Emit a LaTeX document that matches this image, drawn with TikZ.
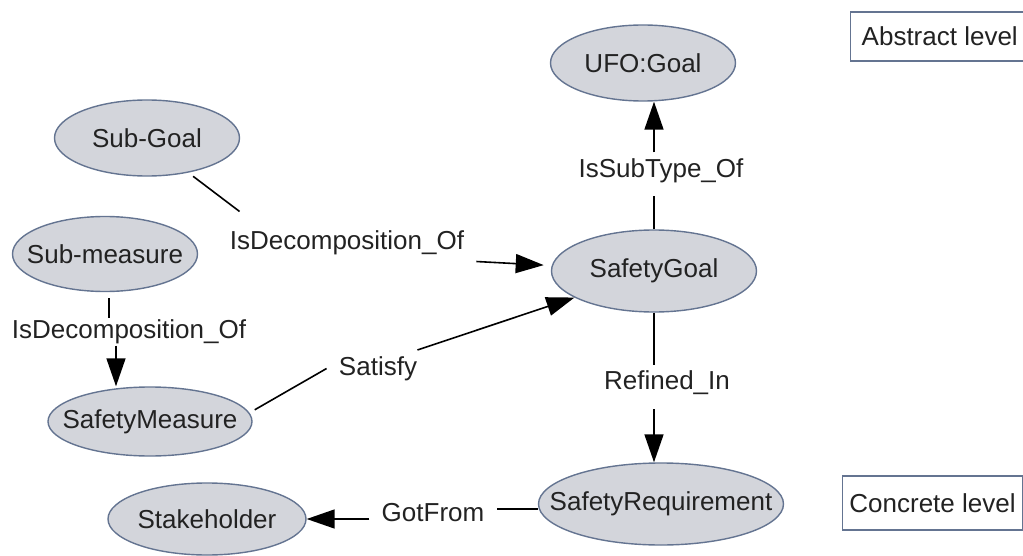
\documentclass[tikz,border=0pt]{standalone}
\usepackage{fontspec}
\setmainfont{Liberation Sans}
\usepackage{tikz}
\usepackage{xcolor}
\usetikzlibrary{shapes.geometric,arrows.meta}
\definecolor{nodefill}{RGB}{211,213,219}
\definecolor{nodeline}{RGB}{100,116,145}
\definecolor{textgray}{RGB}{34,34,34}
\newcommand{\conceptname}[1]{\makebox[0pt]{#1}}
\tikzset{
    concept-node/.style = {draw=nodeline, fill=nodefill, ellipse, line width=0.7pt, inner sep=0pt, text=textgray},
    rel-label/.style = {text=textgray, inner xsep=6pt, inner ysep=3pt},
    rel-line/.style = {draw=black, line width=0.8pt},
    rel-arrow/.style = {rel-line, -{Triangle[length=14pt, width=9.5pt]}},
    level-box/.style = {draw=nodeline, fill=white, rectangle, line width=0.7pt, text=textgray},
}

\begin{document}
\begin{tikzpicture}[x=0.5pt, y=-0.5pt, font=\fontsize{13}{15}\selectfont]
\useasboundingbox (0,0) rectangle (1023,556);

% concepts
\node[concept-node, minimum width=92.5pt, minimum height=38pt] (ufogoal) at (643,63) {\conceptname{UFO:Goal}};
\node[concept-node, minimum width=92.5pt, minimum height=38pt] (subgoal) at (147,138) {\conceptname{Sub-Goal}};
\node[concept-node, minimum width=92.5pt, minimum height=37.5pt] (submeasure) at (105,254) {\conceptname{Sub-measure}};
\node[concept-node, minimum width=102.5pt, minimum height=41pt] (safetygoal) at (654,271) {\conceptname{SafetyGoal}};
\node[concept-node, minimum width=102pt, minimum height=34.5pt] (safetymeasure) at (150,421.5) {\conceptname{SafetyMeasure}};
\node[concept-node, minimum width=122.5pt, minimum height=41pt] (safetyreq) at (661,504) {\conceptname{SafetyRequirement}};
\node[concept-node, minimum width=99pt, minimum height=36pt] (stakeholder) at (207,519) {\conceptname{Stakeholder}};

% levels
\node[level-box, anchor=west, minimum height=24.5pt, inner xsep=5.5pt] (abstract) at (850,36.5) {Abstract level};
\node[level-box, minimum width=88.5pt, minimum height=27pt] (concrete) at (932.5,503) {Concrete level};

% relation labels
\node[rel-label] (decomp1) at (347,243) {IsDecomposition\_Of};
\node[rel-label] (subtype) at (661,171) {IsSubType\_Of};
\node[rel-label, inner sep=0.5pt] (decomp2) at (129,332) {IsDecomposition\_Of};
\node[rel-label] (satisfy) at (378,368.5) {Satisfy};
\node[rel-label] (refined) at (667,383) {Refined\_In};
\node[rel-label] (gotfrom) at (433,513) {GotFrom};

% relations
\draw[rel-line, shorten <=3pt] (subgoal.-40) -- ([shift={(11pt,6.5pt)}]decomp1.north west);
\draw[rel-arrow, shorten >=4pt] (decomp1.south east) -- (safetygoal);
\draw[rel-line, shorten >=3pt] (safetygoal) -- (safetygoal |- subtype.south);
\draw[rel-arrow] (safetygoal |- subtype.north) -- (safetygoal |- ufogoal.south);
\draw[rel-line, shorten <=3pt] ([xshift=2pt]submeasure.south) -- ([xshift=2pt]submeasure.south |- decomp2.north);
\draw[rel-arrow] ([xshift=5.5pt]submeasure.south |- decomp2.south) -- ([xshift=5.5pt]submeasure.south |- safetymeasure.north);
\draw[rel-line, shorten <=3pt] (safetymeasure.5) -- (satisfy.west);
\draw[rel-arrow] ([xshift=-6pt]satisfy.north east) -- (safetygoal);
\draw[rel-line] (safetygoal) -- (safetygoal |- refined.north);
\draw[rel-arrow, shorten <=4pt] (safetygoal |- refined.south) -- (safetygoal |- safetyreq.north);
\draw[rel-line] ([yshift=-2.5pt]safetyreq.west) -- ([yshift=-2.5pt]safetyreq.west -| gotfrom.east);
\draw[rel-arrow] (stakeholder.east -| gotfrom.west) -- (stakeholder.east);
\end{tikzpicture}
\end{document}
